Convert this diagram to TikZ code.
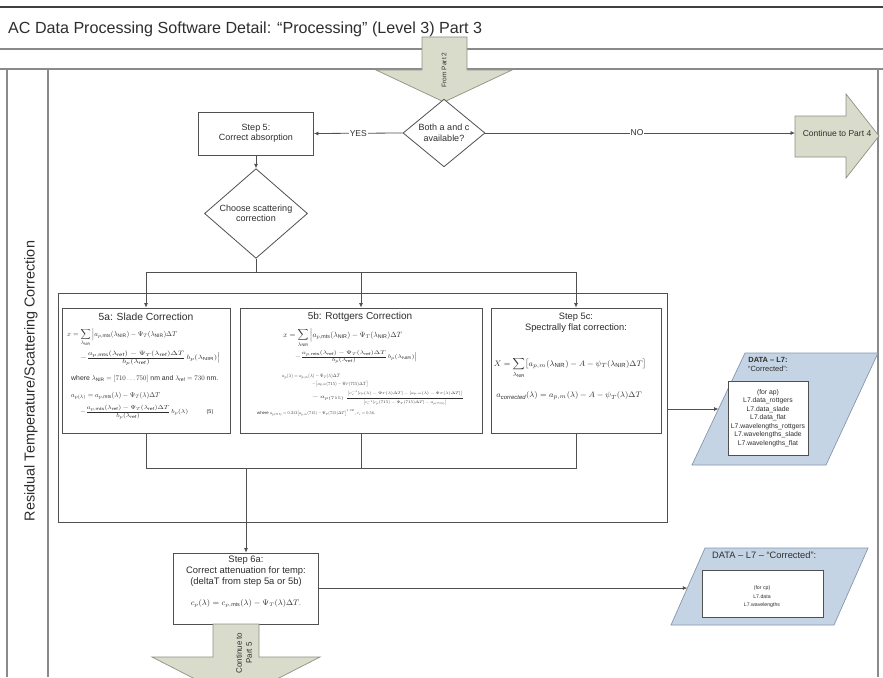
\documentclass[tikz,border=0pt]{standalone}
\usepackage{fontspec}
\setmainfont{Liberation Sans}
\usepackage{amsmath}
\usepackage{graphicx}
\usetikzlibrary{shapes.geometric,arrows.meta,calc}
\definecolor{linegray}{HTML}{505050}
\definecolor{framegray}{HTML}{8A8A8A}
\definecolor{sage}{HTML}{D9DCCB}
\definecolor{sageedge}{HTML}{8E9184}
\definecolor{datablue}{HTML}{C5D4E5}
\definecolor{dataedge}{HTML}{8597AB}
\definecolor{inktext}{HTML}{2E2E2E}
% formula set to a fixed printed width (and optionally total height)
\newcommand{\eqw}[2]{\resizebox{#1pt}{!}{$\displaystyle #2$}}
\newcommand{\eqwh}[3]{\resizebox*{#1pt}{#2pt}{$\displaystyle #3$}}

\begin{document}
\begin{tikzpicture}[x=1pt,y=-1pt,
  every node/.style={text=inktext},
  frame/.style={draw=framegray,line width=1.1pt},
  flow/.style={draw=linegray,line width=0.8pt},
  flowarrow/.style={flow,-{Latex[length=4.5pt,width=4pt]}},
  procbox/.style={draw=linegray,line width=0.8pt,rectangle,inner sep=0pt,fill=white},
  decision/.style={draw=linegray,line width=0.8pt,diamond,inner sep=0pt,fill=white,
    align=center,font=\fontsize{9}{10.5}\selectfont},
  pagearrow/.style={draw=sageedge,fill=sage,line width=0.7pt,line join=miter},
  databox/.style={draw=dataedge,fill=datablue,line width=0.7pt},
  lbl/.style={font=\fontsize{9}{10.5}\selectfont,align=center,inner sep=0pt},
  edgelbl/.style={font=\fontsize{8.5}{10}\selectfont,fill=white,inner sep=1pt},
  eqn/.style={inner sep=0pt},
  datatext/.style={font=\fontsize{6.8}{8.5}\selectfont,align=center,inner sep=0pt},
]
\useasboundingbox (0,0) rectangle (883,677);
\fill[white] (0,0) rectangle (883,677);

% ---- page frame and swimlane ----
\draw[draw=black!75,line width=1.4pt] (0,7) -- (883,7);
\node[anchor=west,font=\fontsize{16.1}{19}\selectfont,inner sep=0pt] (title) at (8,29)
  {AC Data Processing Software Detail: “Processing” (Level 3) Part 3};
\draw[frame] (0,49) -- (883,49);
\draw[frame] (0,69) -- (883,69);
\draw[frame] (7,69) -- (7,677);
\draw[frame] (48,69) -- (48,677);
\draw[frame] (878,69) -- (878,677);
\node[rotate=90,font=\fontsize{14.4}{17}\selectfont,inner sep=0pt] (lane) at (31,381)
  {Residual Temperature/Scattering Correction};

% ---- off-page connectors ----
\draw[pagearrow] (422,37) -- (467,37) -- (467,70) -- (512,70) -- (444,102)
  -- (376,70) -- (422,70) -- cycle;
\node[rotate=90,font=\fontsize{6.6}{7}\selectfont,inner sep=0pt] (frompart) at (444,70) {From Part 2};

\draw[pagearrow] (795,116) -- (846,116) -- (846,94) -- (879,136) -- (846,178)
  -- (846,157) -- (795,157) -- cycle;
\coordinate (p4in) at (795,133);
\node[font=\fontsize{8.5}{10}\selectfont,inner sep=0pt] (topart4) at (837,133) {Continue to Part 4};

% ---- decisions and first step ----
\node[decision,minimum width=82pt,minimum height=63pt] (both) at (444,133) {Both a and c\\available?};
\node[procbox,minimum width=115pt,minimum height=43pt,align=center,
  font=\fontsize{9}{10.5}\selectfont] (step5) at (256,133.5) {Step 5:\\Correct absorption};
\node[decision,minimum width=103pt,minimum height=89pt] (choose) at (256,213.5)
  {Choose scattering\\correction};

\draw[flowarrow] (both.west) -- node[edgelbl] (yes) {YES} (step5.east);
\draw[flowarrow] (both.east) -- node[edgelbl,pos=0.49] (no) {NO} (p4in);
\draw[flowarrow] (step5.south) -- (choose.north);

% ---- scattering correction group ----
\node[draw=linegray,line width=0.8pt,rectangle,inner sep=0pt,minimum width=609pt,
  minimum height=229pt] (group) at (362.5,407.5) {};

\node[procbox,minimum width=168pt,minimum height=125pt] (slade) at (146,370.5) {};
\node[procbox,minimum width=242pt,minimum height=125pt] (rott) at (361,370.5) {};
\node[procbox,minimum width=170pt,minimum height=125pt] (flat) at (576,370.5) {};

\coordinate (split) at (256,272);
\coordinate (merge) at (246,468);
\draw[flow] (choose.south) -- (split);
\draw[flow] (slade.north |- split) -- (flat.north |- split);
\draw[flowarrow] (slade.north |- split) -- (slade.north);
\draw[flowarrow] (rott.north |- split) -- (rott.north);
\draw[flowarrow] (flat.north |- split) -- (flat.north);

\draw[flow] (slade.south) -- (slade.south |- merge) -- (flat.south |- merge) -- (flat.south);
\draw[flow] (rott.south) -- (rott.south |- merge);

% 5a: Slade
\node[font=\fontsize{10.3}{12}\selectfont,inner sep=0pt] (sladet) at (146,317) {5a: Slade Correction};
\node[eqn,anchor=west] (sladeA) at (67,337)
  {\eqw{110}{x=\sum_{\lambda_{\mathrm{NIR}}}\Big|a_{p,\mathrm{mts}}(\lambda_{\mathrm{NIR}})-\Psi_T(\lambda_{\mathrm{NIR}})\Delta T}};
\node[eqn,anchor=west] (sladeB) at (80,358)
  {\eqwh{140}{15}{-\frac{a_{p,\mathrm{mts}}(\lambda_{\mathrm{ref}})-\Psi_T(\lambda_{\mathrm{ref}})\Delta T}{b_p(\lambda_{\mathrm{ref}})}\,b_p(\lambda_{\mathrm{NIR}})\Big|}};
\node[eqn,anchor=west] (sladeC) at (71,379)
  {\resizebox{147pt}{!}{where $\lambda_{\mathrm{NIR}}=[710\ldots750]$ nm and $\lambda_{\mathrm{ref}}=730$ nm.}};
\node[eqn,anchor=west] (sladeD) at (71,396)
  {\eqw{89}{a_{p(\lambda)}=a_{p,\mathrm{mts}}(\lambda)-\Psi_T(\lambda)\Delta T}};
\node[eqn,anchor=west] (sladeE) at (80,412)
  {\eqwh{108}{14}{-\frac{a_{p,\mathrm{mts}}(\lambda_{\mathrm{ref}})-\Psi_T(\lambda_{\mathrm{ref}})\Delta T}{b_p(\lambda_{\mathrm{ref}})}\,b_p(\lambda)}};
\node[eqn,font=\fontsize{5.5}{6}\selectfont] (sladeN) at (210,412) {(5)};

% 5b: Rottgers
\node[font=\fontsize{10}{12}\selectfont,inner sep=0pt] (rottt) at (360,317) {5b: Rottgers Correction};
\node[eqn,anchor=west] (rotA) at (283,338)
  {\eqw{119}{x=\sum_{\lambda_{\mathrm{NIR}}}\Big|a_{p,\mathrm{mts}}(\lambda_{\mathrm{NIR}})-\Psi_T(\lambda_{\mathrm{NIR}})\Delta T}};
\node[eqn,anchor=west] (rotB) at (295,357)
  {\eqwh{122}{13}{-\frac{a_{p,\mathrm{mts}}(\lambda_{\mathrm{ref}})-\Psi_T(\lambda_{\mathrm{ref}})\Delta T}{b_p(\lambda_{\mathrm{ref}})}\,b_p(\lambda_{\mathrm{NIR}})\Big|}};
\node[eqn,anchor=west] (rotC) at (282,376.5)
  {\eqwh{58}{5}{a_p(\lambda)=a_{p,m}(\lambda)-\Psi_T(\lambda)\Delta T}};
\node[eqn,anchor=west] (rotD) at (312,384)
  {\eqwh{56}{5.5}{-\bigl[a_{p,m}(715)-\Psi_T(715)\Delta T\bigr]}};
% third term: factor, then the fraction built from numerator, rule and denominator
\node[eqn,anchor=west] (rotE) at (312,398)
  {\eqwh{32}{5}{-\,a_{p(715)}}};
\node[eqn] (rotEnum) at (405,393.2)
  {\eqwh{116}{4.6}{\bigl[e_c^{-1}[c_p(\lambda)-\Psi_T(\lambda)\Delta T]-[a_{p,m}(\lambda)-\Psi_T(\lambda)\Delta T]\bigr]}};
\node[eqn] (rotEden) at (405,402.8)
  {\eqwh{84}{4.6}{\bigl[e_c^{-1}[c_p(715)-\Psi_T(715)\Delta T]-a_{p(715)}\bigr]}};
\draw[draw=inktext,line width=0.35pt] (rotEnum.west |- 0,398) -- (rotEnum.east |- 0,398);
\node[eqn,anchor=west] (rotF) at (257,413)
  {\resizebox*{118pt}{6pt}{where $a_{p(715)}=0.212\bigl[a_{p,m}(715)-\Psi_T(715)\Delta T\bigr]^{1.135}$, $e_c=0.56$.}};

% 5c: spectrally flat
\node[lbl,font=\fontsize{9.3}{11}\selectfont] (flatt) at (576,322.5) {Step 5c:\\Spectrally flat correction:};
\node[font=\fontsize{8.5}{10}\selectfont,inner sep=0pt] (flatA) at (570,368)
  {$X=\displaystyle\sum_{\lambda_{\mathrm{NIR}}}\bigl[a_{p,m}(\lambda_{\mathrm{NIR}})-A-\psi_T(\lambda_{\mathrm{NIR}})\Delta T\bigr]$};
\node[font=\fontsize{8.5}{10}\selectfont,inner sep=0pt] (flatB) at (569,396)
  {$a_{\mathit{corrected}}(\lambda)=a_{p,m}(\lambda)-A-\psi_T(\lambda)\Delta T$};

% ---- output data of the corrections ----
\coordinate (dtl) at (745,353);
\coordinate (dtr) at (878,353);
\coordinate (dbr) at (826,465);
\coordinate (dbl) at (692,465);
\draw[databox] (dtl) -- (dtr) -- (dbr) -- (dbl) -- cycle;
\coordinate (din) at ($(dtl)!0.5!(dbl)$);
\node[draw=linegray,line width=0.7pt,fill=white,minimum width=80pt,minimum height=74pt,
  inner sep=0pt] (dbox) at (768,418) {};
\node[font=\fontsize{7.5}{9}\selectfont,align=center,inner sep=0pt] (dhead) at (768,364.5)
  {\textbf{DATA – L7:}\\“Corrected”:};
\node[datatext] (dlist) at (768,418)
  {(for ap)\\L7.data\_rottgers\\L7.data\_slade\\L7.data\_flat\\L7.wavelengths\_rottgers\\L7.wavelengths\_slade\\L7.wavelengths\_flat};
\draw[flowarrow] (group.east |- din) -- (din);

% ---- step 6a ----
\node[procbox,minimum width=145pt,minimum height=71pt] (step6) at (246,588.5) {};
\node[lbl,font=\fontsize{9.4}{11}\selectfont] (step6t) at (246,571)
  {Step 6a:\\Correct attenuation for temp:\\(deltaT from step 5a or 5b)};
\node[font=\fontsize{7.7}{8}\selectfont,inner sep=0pt] (step6eq) at (246,603)
  {$c_p(\lambda)=c_{p,\mathrm{mts}}(\lambda)-\Psi_T(\lambda)\Delta T.$};
\draw[flowarrow] (merge) -- (step6.north);

\coordinate (etl) at (705,548);
\coordinate (etr) at (868,548);
\coordinate (ebr) at (834,625);
\coordinate (ebl) at (671,625);
\draw[databox] (etl) -- (etr) -- (ebr) -- (ebl) -- cycle;
\coordinate (ein) at ($(etl)!0.52!(ebl)$);
\node[draw=linegray,line width=0.7pt,fill=white,minimum width=121pt,minimum height=47pt,
  inner sep=0pt] (ebox) at (762.5,593.5) {};
\node[font=\fontsize{9.3}{11}\selectfont,inner sep=0pt,anchor=west] (ehead) at (712,555)
  {DATA – L7 – “Corrected”:};
\node[font=\fontsize{5.2}{8.5}\selectfont,align=center,inner sep=0pt] (elist) at (762,597)
  {(for cp)\\L7.data\\L7.wavelengths};
\draw[flowarrow] (step6.east |- ein) -- (ein);

\draw[pagearrow] (213,624) -- (259,624) -- (259,657) -- (320,657) -- (236,700)
  -- (152,657) -- (213,657) -- cycle;
\node[rotate=90,align=center,font=\fontsize{8}{10}\selectfont,inner sep=0pt] (topart5) at (244,653)
  {Continue to\\Part 5};
\end{tikzpicture}
\end{document}
